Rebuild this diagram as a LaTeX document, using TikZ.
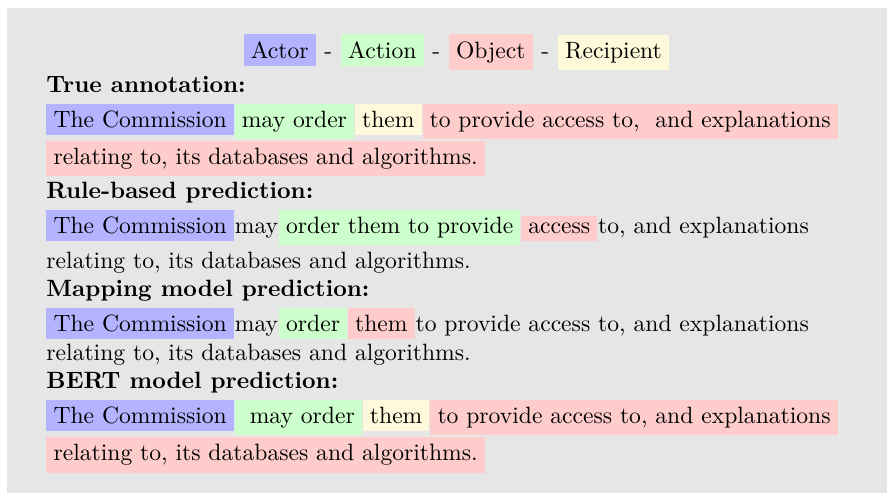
\documentclass[tikz,border=0pt]{standalone}
\usetikzlibrary{positioning}
\definecolor{actorblue}{HTML}{B3B3FF}
\definecolor{actiongreen}{HTML}{CCFFCC}
\definecolor{objectred}{HTML}{FFCCCC}
\definecolor{recipyellow}{HTML}{FFF9DC}
\definecolor{panelgray}{HTML}{E6E6E6}
\tikzset{
  hlbox/.style={inner sep=3pt, anchor=base west},
  actorbox/.style={hlbox, fill=actorblue},
  actionbox/.style={hlbox, fill=actiongreen},
  objectbox/.style={hlbox, fill=objectred},
  recipbox/.style={hlbox, fill=recipyellow},
  plaintxt/.style={inner sep=0pt, anchor=base west},
  headtxt/.style={plaintxt, font=\bfseries},
}

\begin{document}
\begin{tikzpicture}[x=0.4237pt, y=-0.4237pt]
  \fill[panelgray] (7,8) rectangle (887,493);
  \useasboundingbox (0,0) rectangle (887,493);

  % ---- Legend ----
  \node[actorbox] (lgactor) at (243.3,58.2) {Actor};
  \node[plaintxt, base right=0pt of lgactor] (lgdasha) {\ -\ \null};
  \node[actionbox, base right=0pt of lgdasha] (lgaction) {Action};
  \node[plaintxt, base right=0pt of lgaction] (lgdashb) {\ -\ \null};
  \node[objectbox, base right=0pt of lgdashb] (lgobject) {Object};
  \node[plaintxt, base right=0pt of lgobject] (lgdashc) {\ -\ \null};
  \node[recipbox, base right=0pt of lgdashc] (lgrecip) {Recipient};

  % ---- True annotation ----
  \node[headtxt] (truehd) at (46,92.7) {True annotation:};
  \node[actorbox] (trueactor) at (46,127.5) {The Commission};
  \node[actionbox, base right=0pt of trueactor] (trueaction) {may order};
  \node[recipbox, base right=0pt of trueaction] (truerecip) {them};
  \node[objectbox, base right=0pt of truerecip] (trueobj) {to provide access to,\ \ and explanations};
  \node[objectbox] (trueobjb) at (46,164.5) {relating to, its databases and algorithms.};

  % ---- Rule-based ----
  \node[headtxt] (rulehd) at (46,198.8) {Rule-based prediction:};
  \node[actorbox] (ruleactor) at (46,233.5) {The Commission};
  \node[plaintxt, base right=0pt of ruleactor] (rulemay) {may};
  \node[actionbox, base right=0pt of rulemay] (ruleaction) {order them to provide};
  \node[objectbox, base right=0pt of ruleaction] (ruleobj) {access};
  \node[plaintxt, base right=0pt of ruleobj] (rulerest) {to, and explanations};
  \node[plaintxt] (rulerestb) at (46,268.3) {relating to, its databases and algorithms.};

  % ---- Mapping model ----
  \node[headtxt] (maphd) at (46,296.7) {Mapping model prediction:};
  \node[actorbox] (mapactor) at (46,331.5) {The Commission};
  \node[plaintxt, base right=0pt of mapactor] (mapmay) {may};
  \node[actionbox, base right=0pt of mapmay] (mapaction) {order};
  \node[objectbox, base right=0pt of mapaction] (mapobj) {them};
  \node[plaintxt, base right=0pt of mapobj] (maprest) {to provide access to, and explanations};
  \node[plaintxt] (maprestb) at (46,360) {relating to, its databases and algorithms.};

  % ---- BERT model ----
  \node[headtxt] (berthd) at (46,388.3) {BERT model prediction:};
  \node[actorbox] (bertactor) at (46,423.5) {The Commission};
  \node[actionbox, base right=0pt of bertactor] (bertaction) {\ may order};
  \node[recipbox, base right=0pt of bertaction] (bertrecip) {them};
  \node[objectbox, base right=0pt of bertrecip] (bertobj) {to provide access to, and explanations};
  \node[objectbox] (bertobjb) at (46,460.8) {relating to, its databases and algorithms.};
\end{tikzpicture}
\end{document}
